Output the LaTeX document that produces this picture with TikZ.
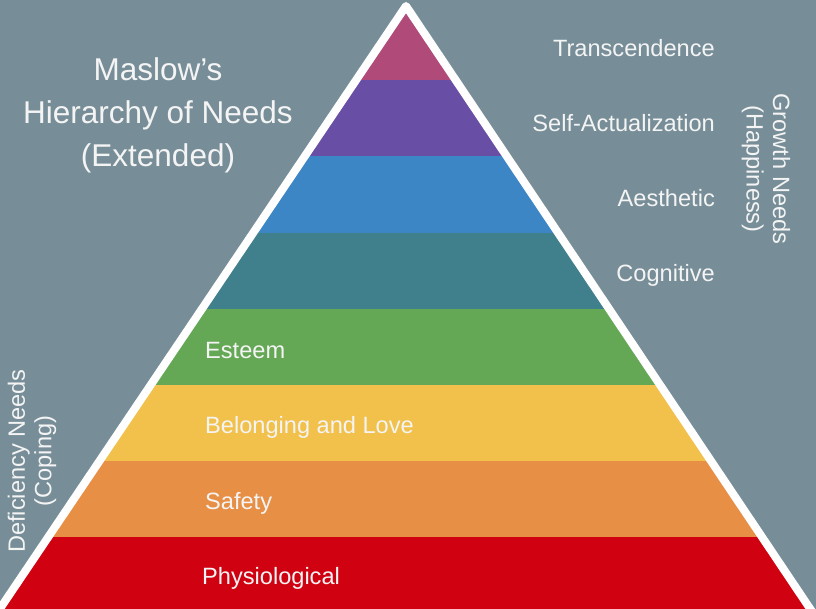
\documentclass[tikz,border=0pt]{standalone}
\usepackage{fontspec}
\setmainfont{Liberation Sans}
\definecolor{bg}{RGB}{119,142,152}
\definecolor{txt}{RGB}{244,244,244}
\definecolor{cTrans}{RGB}{176,74,121}
\definecolor{cSelf}{RGB}{104,79,165}
\definecolor{cAest}{RGB}{61,134,198}
\definecolor{cCogn}{RGB}{64,128,140}
\definecolor{cEste}{RGB}{100,168,86}
\definecolor{cBelo}{RGB}{241,193,76}
\definecolor{cSafe}{RGB}{232,143,70}
\definecolor{cPhys}{RGB}{208,2,18}
\begin{document}
\begin{tikzpicture}[x=1pt,y=-1pt,
  lbl/.style={text=txt,font=\fontsize{23.6}{26.5}\selectfont,inner sep=0pt},
  sidelbl/.style={lbl,align=center},
  titlelbl/.style={text=txt,font=\fontsize{31.5}{43}\selectfont,inner sep=0pt,align=center},
  edge/.style={white,line width=8pt,line join=round}]
% background
\fill[bg] (0,0) rectangle (816,609);
\useasboundingbox (0,0) rectangle (816,609);

% pyramid corners
\coordinate (apex) at (406,6);
\coordinate (bl) at (-11,625);
\coordinate (br) at (821,625);

% coloured levels
\begin{scope}
  \clip (apex) -- (bl) -- (br) -- cycle;
  \fill[cTrans] (0,0)   rectangle (816,80);
  \fill[cSelf]  (0,80)  rectangle (816,156);
  \fill[cAest]  (0,156) rectangle (816,233);
  \fill[cCogn]  (0,233) rectangle (816,309);
  \fill[cEste]  (0,309) rectangle (816,385);
  \fill[cBelo]  (0,385) rectangle (816,461);
  \fill[cSafe]  (0,461) rectangle (816,537);
  \fill[cPhys]  (0,537) rectangle (816,630);
\end{scope}

% white outline
\draw[edge] (bl) -- (apex) -- (br);

% title
\node[titlelbl] (title) at (158,115) {Maslow’s\\Hierarchy of Needs\\(Extended)};

% growth needs
\node[lbl,anchor=base east] (transcendence) at (715,57)  {Transcendence};
\node[lbl,anchor=base east] (selfact)       at (715,132) {Self-Actualization};
\node[lbl,anchor=base east] (aesthetic)     at (715,207) {Aesthetic};
\node[lbl,anchor=base east] (cognitive)     at (715,282) {Cognitive};

% deficiency needs
\node[lbl,anchor=base west] (esteem)     at (205,358) {Esteem};
\node[lbl,anchor=base west] (belonging)  at (205,433) {Belonging and Love};
\node[lbl,anchor=base west] (safety)     at (205,509) {Safety};
\node[lbl,anchor=base west] (physio)     at (202,584) {Physiological};

% group captions
\node[sidelbl,rotate=-90] (growth)     at (766,169) {Growth Needs\\(Happiness)};
\node[sidelbl,rotate=90]  (deficiency) at (32,461)  {Deficiency Needs\\(Coping)};
\end{tikzpicture}
\end{document}
